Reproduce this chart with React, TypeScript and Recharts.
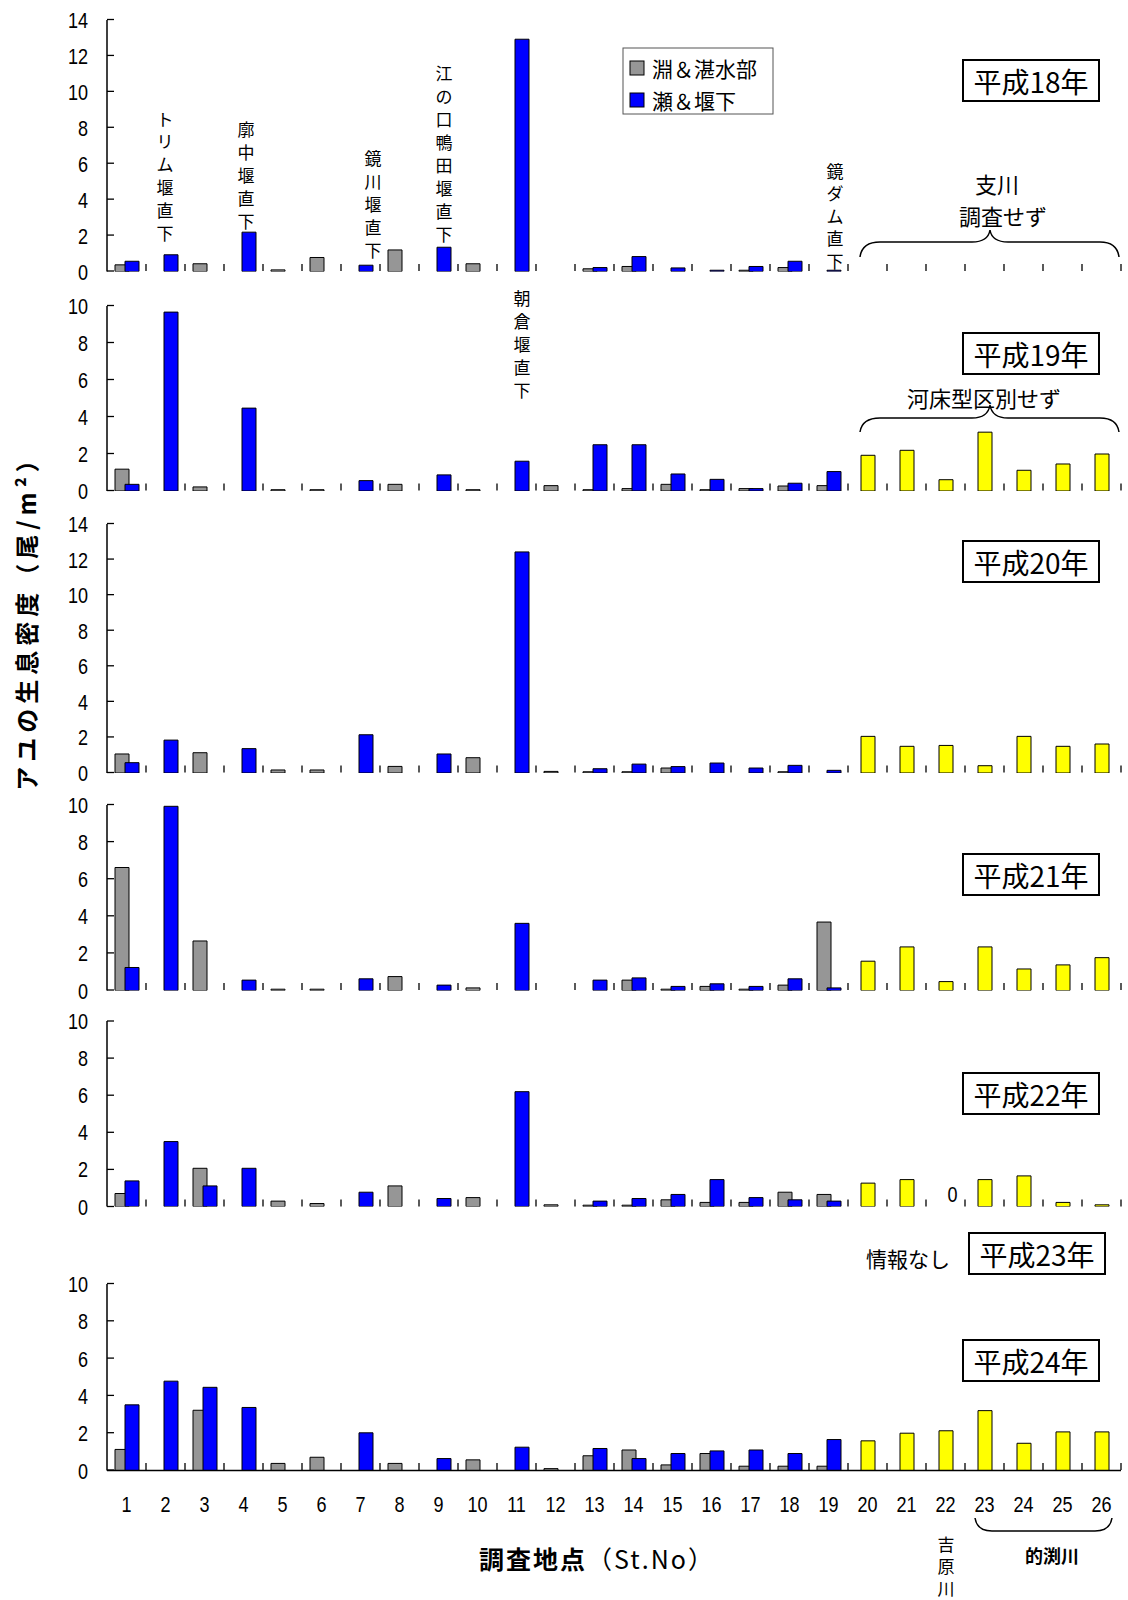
import React from 'react';
import { BarChart, Bar, XAxis, YAxis } from 'recharts';

const _ = null;

const stations = ['1', '2', '3', '4', '5', '6', '7', '8', '9', '10', '11', '12', '13', '14', '15', '16', '17', '18', '19', '20', '21', '22', '23', '24', '25', '26'];
const ticks14 = [0, 2, 4, 6, 8, 10, 12, 14];
const ticks10 = [0, 2, 4, 6, 8, 10];

// 淵＆湛水部 (gray), 瀬＆堰下 (blue), 支川 (yellow)
const h18Gray = [0.37, _, 0.43, _, 0.09, 0.78, _, 1.2, _, 0.43, _, _, 0.15, 0.28, _, _, 0.07, 0.22, _, _, _, _, _, _, _, _];
const h18Blue = [0.57, 0.93, _, 2.19, _, _, 0.35, _, 1.35, _, 12.93, _, 0.22, 0.83, 0.2, 0.07, 0.28, 0.57, 0.07, _, _, _, _, _, _, _];
const h18Yellow = [_, _, _, _, _, _, _, _, _, _, _, _, _, _, _, _, _, _, _, _, _, _, _, _, _, _];

const h19Gray = [1.18, _, 0.22, _, 0.07, 0.07, _, 0.36, _, 0.07, _, 0.29, 0.07, 0.13, 0.36, 0.07, 0.13, 0.27, 0.29, _, _, _, _, _, _, _];
const h19Blue = [0.36, 9.67, _, 4.48, _, _, 0.56, _, 0.87, _, 1.61, _, 2.5, 2.5, 0.92, 0.63, 0.13, 0.42, 1.05, _, _, _, _, _, _, _];
const h19Yellow = [_, _, _, _, _, _, _, _, _, _, _, _, _, _, _, _, _, _, _, 1.93, 2.2, 0.61, 3.18, 1.12, 1.46, 2.0];

const h20Gray = [1.07, _, 1.14, _, 0.17, 0.17, _, 0.37, _, 0.86, _, 0.09, 0.07, 0.07, 0.28, _, _, 0.07, _, _, _, _, _, _, _, _];
const h20Blue = [0.58, 1.85, _, 1.37, _, _, 2.15, _, 1.07, _, 12.43, _, 0.24, 0.5, 0.36, 0.56, 0.28, 0.43, 0.15, _, _, _, _, _, _, _];
const h20Yellow = [_, _, _, _, _, _, _, _, _, _, _, _, _, _, _, _, _, _, _, 2.06, 1.5, 1.55, 0.41, 2.06, 1.5, 1.63];

const h21Gray = [6.63, _, 2.67, _, 0.07, 0.07, _, 0.75, _, 0.14, _, _, _, 0.56, 0.07, 0.22, 0.07, 0.29, 3.69, _, _, _, _, _, _, _];
const h21Blue = [1.24, 9.93, _, 0.56, _, _, 0.63, _, 0.29, _, 3.62, _, 0.56, 0.68, 0.22, 0.36, 0.22, 0.63, 0.14, _, _, _, _, _, _, _];
const h21Yellow = [_, _, _, _, _, _, _, _, _, _, _, _, _, _, _, _, _, _, _, 1.58, 2.35, 0.48, 2.35, 1.16, 1.38, 1.77];

const h22Gray = [0.7, _, 2.06, _, 0.29, 0.16, _, 1.11, _, 0.48, _, 0.09, 0.07, 0.07, 0.36, 0.22, 0.22, 0.77, 0.65, _, _, _, _, _, _, _];
const h22Blue = [1.38, 3.5, 1.11, 2.06, _, _, 0.77, _, 0.43, _, 6.19, _, 0.29, 0.43, 0.65, 1.45, 0.48, 0.36, 0.29, _, _, _, _, _, _, _];
const h22Yellow = [_, _, _, _, _, _, _, _, _, _, _, _, _, _, _, _, _, _, _, 1.26, 1.45, 0, 1.45, 1.65, 0.22, 0.09];

const h24Gray = [1.13, _, 3.23, _, 0.38, 0.71, _, 0.38, _, 0.57, _, 0.1, 0.79, 1.1, 0.3, 0.91, 0.23, 0.23, 0.23, _, _, _, _, _, _, _];
const h24Blue = [3.52, 4.79, 4.46, 3.38, _, _, 2.02, _, 0.64, _, 1.25, _, 1.18, 0.64, 0.91, 1.05, 1.1, 0.91, 1.66, _, _, _, _, _, _, _];
const h24Yellow = [_, _, _, _, _, _, _, _, _, _, _, _, _, _, _, _, _, _, _, 1.59, 2.0, 2.13, 3.21, 1.46, 2.07, 2.07];

const numFont = "'Liberation Sans', 'Noto Sans CJK JP', sans-serif";
const jpFont = "'Noto Sans CJK JP', sans-serif";

const PLOT_LEFT = 107;
const PLOT_RIGHT = 1121;
const BAND = (PLOT_RIGHT - PLOT_LEFT) / stations.length;
const Y_TICK_MARGIN = 19;

type PanelSpec = {
    gray: (number | null)[]
    blue: (number | null)[]
    yellow: (number | null)[]
    yMax: number
    yTicks: number[]
    plotTop: number
    zero: number
    showLabels?: boolean
};

const panels: PanelSpec[] = [
    { gray: h18Gray, blue: h18Blue, yellow: h18Yellow, yMax: 14, yTicks: ticks14, plotTop: 19.5, zero: 271 },
    { gray: h19Gray, blue: h19Blue, yellow: h19Yellow, yMax: 10, yTicks: ticks10, plotTop: 305.5, zero: 490.5 },
    { gray: h20Gray, blue: h20Blue, yellow: h20Yellow, yMax: 14, yTicks: ticks14, plotTop: 523.5, zero: 772.5 },
    { gray: h21Gray, blue: h21Blue, yellow: h21Yellow, yMax: 10, yTicks: ticks10, plotTop: 804.5, zero: 990 },
    { gray: h22Gray, blue: h22Blue, yellow: h22Yellow, yMax: 10, yTicks: ticks10, plotTop: 1021, zero: 1206.5 },
    { gray: h24Gray, blue: h24Blue, yellow: h24Yellow, yMax: 10, yTicks: ticks10, plotTop: 1283.5, zero: 1470, showLabels: true },
];

// condensed digits, like the original narrow gothic
const NumText = ({ x, y, anchor, children }: { x: number; y: number; anchor: 'start' | 'middle' | 'end'; children: React.ReactNode }) => (
    <text transform={`translate(${x},${y}) scale(0.82,1)`} textAnchor={anchor} fontSize={22} fontFamily={numFont} fill="#000">
        {children}
    </text>
);

const StTick = (props: any) => {
    const x = Number(props.x);
    const y = Number(props.y);
    return <NumText x={x} y={y + 41} anchor="middle">{props.payload.value}</NumText>;
};

const YTick = (props: any) => {
    const x = Number(props.x);
    const y = Number(props.y);
    return <NumText x={x} y={y + 8} anchor="end">{props.payload.value}</NumText>;
};

function Panel({ gray, blue, yellow, yMax, yTicks, plotTop, zero, showLabels }: PanelSpec) {
    const data = stations.map((st, i) => ({ st, gray: gray[i], blue: blue[i], yellow: yellow[i] }));
    const mt = 14;
    const xh = showLabels ? 50 : 0;
    const mb = showLabels ? 0 : 14;
    const height = mt + (zero - plotTop) + xh + mb;

    return (
        <div style={{ position: 'absolute', left: 0, top: plotTop - mt }}>
            <BarChart
                width={1128}
                height={height}
                data={data}
                margin={{ top: mt, right: 1128 - PLOT_RIGHT, bottom: mb, left: 0 }}
                barGap={-4}
                barSize={14}
            >
                <XAxis
                    xAxisId="cat"
                    dataKey="st"
                    type="category"
                    height={xh}
                    interval={0}
                    axisLine={{ stroke: '#000', strokeWidth: 1.5 }}
                    tickLine={false}
                    tickSize={0}
                    tickMargin={0}
                    tick={showLabels ? StTick : false}
                />
                <XAxis xAxisId="yel" dataKey="st" type="category" hide />
                <YAxis
                    yAxisId="val"
                    domain={[0, yMax]}
                    ticks={yTicks}
                    interval={0}
                    allowDataOverflow
                    width={PLOT_LEFT}
                    axisLine={{ stroke: '#000', strokeWidth: 1.5 }}
                    tickLine={false}
                    tickSize={0}
                    tickMargin={Y_TICK_MARGIN}
                    tick={YTick}
                />
                <Bar xAxisId="cat" yAxisId="val" dataKey="gray" fill="#969696" stroke="#000" strokeWidth={1} isAnimationActive={false} />
                <Bar xAxisId="cat" yAxisId="val" dataKey="blue" fill="#0000ff" stroke="#000" strokeWidth={1} isAnimationActive={false} />
                <Bar xAxisId="yel" yAxisId="val" dataKey="yellow" fill="#ffff00" stroke="#000" strokeWidth={1} isAnimationActive={false} />
            </BarChart>
        </div>
    );
}

// inward tick marks (Excel style) and the "0" note for zero-valued yellow bars
const PanelMarks = ({ p }: { p: PanelSpec }) => {
    const ph = p.zero - p.plotTop;
    return (
        <g>
            {stations.map((st, i) => {
                const bx = PLOT_LEFT + (i + 1) * BAND;
                return <line key={'x' + st} x1={bx} x2={bx} y1={p.zero} y2={p.zero - 7} stroke="#000" strokeWidth={1.3} />;
            })}
            {p.yTicks.map((v) => {
                const ty = p.zero - (v / p.yMax) * ph;
                return <line key={'y' + v} x1={PLOT_LEFT} x2={PLOT_LEFT + 7} y1={ty} y2={ty} stroke="#000" strokeWidth={1.3} />;
            })}
            {p.yellow.map((v, i) =>
                v === 0 ? (
                    <NumText key={'z' + i} x={PLOT_LEFT + (i + 0.5) * BAND + 7} y={p.zero - 5} anchor="middle">
                        0
                    </NumText>
                ) : null
            )}
        </g>
    );
};

// vertical label, one glyph under the other
const VText = ({ x, y, step, text, size = 17 }: { x: number; y: number; step: number; text: string; size?: number }) => (
    <g>
        {Array.from(text).map((ch, i) => (
            <text key={i} x={x} y={y + i * step} textAnchor="middle" dominantBaseline="central" fontSize={size} fontFamily={jpFont} fill="#000">
                {ch}
            </text>
        ))}
    </g>
);

const YearBox = ({ x, y, label }: { x: number; y: number; label: string }) => (
    <g>
        <rect x={x} y={y} width={136} height={41} fill="#fff" stroke="#000" strokeWidth={2} />
        <text x={x + 68} y={y + 21} textAnchor="middle" dominantBaseline="central" fontSize={28} fontFamily={jpFont} fill="#000">
            {label}
        </text>
    </g>
);

export default function App() {
    return (
        <div style={{ position: 'absolute', left: 0, top: 0, width: 1128, height: 1600, background: '#fff' }}>
            {panels.map((p, i) => (
                <Panel key={i} {...p} />
            ))}

            <svg width={1128} height={1600} style={{ position: 'absolute', left: 0, top: 0, pointerEvents: 'none' }}>
                {panels.map((p, i) => (
                    <PanelMarks key={i} p={p} />
                ))}

                {/* axis titles */}
                <text
                    x={25.5}
                    y={617}
                    transform="rotate(-90 25.5 617)"
                    textAnchor="middle"
                    dominantBaseline="central"
                    fontSize={24}
                    letterSpacing={5}
                    fontWeight="bold"
                    fontFamily={jpFont}
                    fill="#000"
                >
                    アユの生息密度（尾/m²）
                </text>
                <text x={597} y={1558} textAnchor="middle" dominantBaseline="central" fontSize={25} letterSpacing={2} fontFamily={jpFont} fill="#000">
                    <tspan fontWeight="bold">調査地点</tspan>
                    <tspan>（St.No）</tspan>
                </text>

                {/* legend */}
                <rect x={623} y={48} width={150} height={66} fill="#fff" stroke="#555" strokeWidth={1} />
                <rect x={630} y={61} width={14} height={14} fill="#969696" stroke="#000" />
                <text x={652} y={68} dominantBaseline="central" fontSize={21} fontFamily={jpFont} fill="#000">淵＆湛水部</text>
                <rect x={630} y={93} width={14} height={14} fill="#0000ff" stroke="#000" />
                <text x={652} y={100} dominantBaseline="central" fontSize={21} fontFamily={jpFont} fill="#000">瀬＆堰下</text>

                {/* year boxes */}
                <YearBox x={963} y={60} label="平成18年" />
                <YearBox x={963} y={333} label="平成19年" />
                <YearBox x={963} y={541} label="平成20年" />
                <YearBox x={963} y={854} label="平成21年" />
                <YearBox x={963} y={1073} label="平成22年" />
                <YearBox x={969} y={1233} label="平成23年" />
                <YearBox x={963} y={1340} label="平成24年" />
                <text x={908} y={1258} textAnchor="middle" dominantBaseline="central" fontSize={21} fontFamily={jpFont} fill="#000">情報なし</text>

                {/* site notes */}
                <VText x={165} y={118} step={22.8} text="トリム堰直下" />
                <VText x={246} y={128} step={23} text="廓中堰直下" />
                <VText x={373} y={157} step={23} text="鏡川堰直下" />
                <VText x={444} y={72} step={23} text="江の口鴨田堰直下" />
                <VText x={522} y={297} step={23} text="朝倉堰直下" />
                <VText x={835} y={170} step={22.5} text="鏡ダム直下" />

                {/* tributaries braces */}
                <path d="M860,257 Q862,242 880,242 L972,242 Q988,242 990,230 Q992,242 1008,242 L1100,242 Q1117,242 1119,257" fill="none" stroke="#000" strokeWidth={1.5} />
                <text x={997} y={183} textAnchor="middle" dominantBaseline="central" fontSize={22} fontFamily={jpFont} fill="#000">支川</text>
                <text x={1003} y={215} textAnchor="middle" dominantBaseline="central" fontSize={22} fontFamily={jpFont} fill="#000">調査せず</text>

                <path d="M860,432 Q862,418 880,418 L972,418 Q988,418 990,405 Q992,418 1008,418 L1100,418 Q1117,418 1119,432" fill="none" stroke="#000" strokeWidth={1.5} />
                <text x={984} y={397} textAnchor="middle" dominantBaseline="central" fontSize={22} fontFamily={jpFont} fill="#000">河床型区別せず</text>

                {/* bottom river names */}
                <VText x={946} y={1543} step={22} text="吉原川" size={17} />
                <path d="M975,1518 Q977,1531 992,1531 L1095,1531 Q1110,1531 1112,1518" fill="none" stroke="#000" strokeWidth={1.5} />
                <text x={1052} y={1555} textAnchor="middle" dominantBaseline="central" fontSize={18} fontWeight="bold" fontFamily={jpFont} fill="#000">的渕川</text>
            </svg>
        </div>
    );
}
